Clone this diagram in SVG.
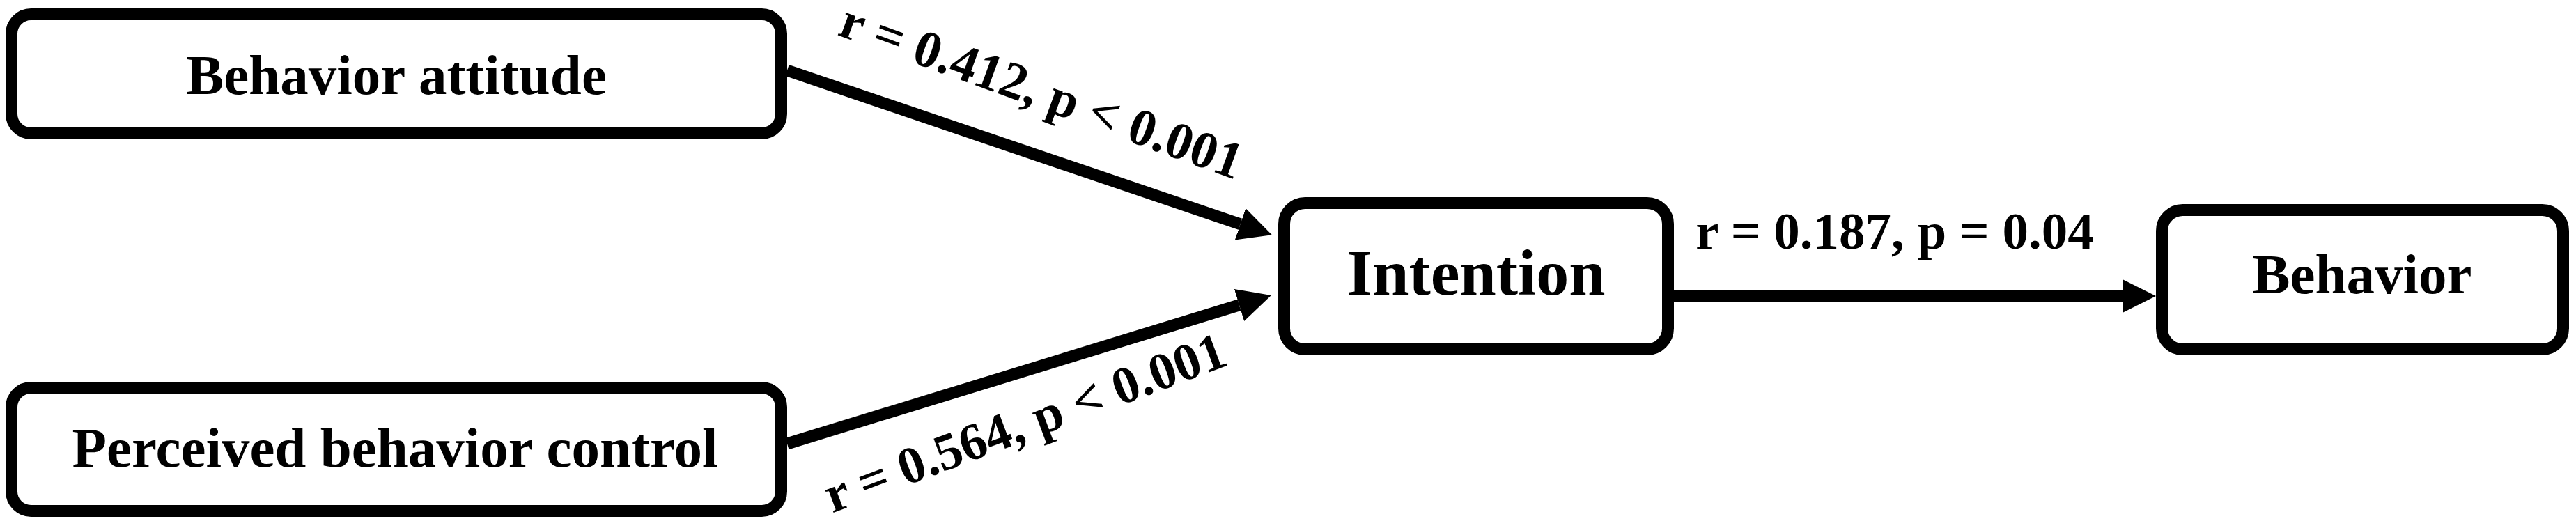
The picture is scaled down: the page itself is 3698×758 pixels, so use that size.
<svg xmlns="http://www.w3.org/2000/svg" width="3698" height="758" viewBox="0 0 3698 758">
<style>
.box{fill:#fff;stroke:#000;stroke-width:17}
.lbl{font-family:"Liberation Serif","Times New Roman",serif;font-weight:bold;fill:#000;text-anchor:middle}
.edge{stroke:#000;stroke-width:17;fill:none}
</style>
<defs>
<marker id="ah" markerUnits="userSpaceOnUse" markerWidth="48" markerHeight="48" viewBox="0 0 48 48" refX="0" refY="24" orient="auto">
<path d="M0,0 L48,24 L0,48 z" fill="#000"/>
</marker>
</defs>
<rect width="3698" height="758" fill="#fff"/>
<g id="connectors">
<line class="edge" x1="1130" y1="101" x2="1780.5" y2="321.8" marker-end="url(#ah)"/>
<line class="edge" x1="1130" y1="637" x2="1779" y2="438" marker-end="url(#ah)"/>
<line class="edge" x1="2403" y1="425" x2="3047" y2="425" marker-end="url(#ah)"/>
<text class="lbl" font-size="75" transform="translate(1487,154) rotate(20)">r = 0.412, p &lt; 0.001</text>
<text class="lbl" font-size="75" transform="translate(1480,630) rotate(-20.5)">r = 0.564, p &lt; 0.001</text>
<text class="lbl" font-size="75" x="2720" y="357">r = 0.187, p = 0.04</text>
</g>
<g id="node-attitude">
<rect class="box" x="16.5" y="20.5" width="1105" height="171" rx="28"/>
<text class="lbl" font-size="81" x="569" y="135">Behavior attitude</text>
</g>
<g id="node-control">
<rect class="box" x="16.5" y="556.5" width="1105" height="177" rx="28"/>
<text class="lbl" font-size="81" x="567" y="670">Perceived behavior control</text>
</g>
<g id="node-intention">
<rect class="box" x="1843.5" y="291.5" width="551" height="210" rx="30"/>
<text class="lbl" font-size="94" x="2119" y="423">Intention</text>
</g>
<g id="node-behavior">
<rect class="box" x="3103.5" y="301.5" width="576" height="200" rx="30"/>
<text class="lbl" font-size="81" x="3391" y="421">Behavior</text>
</g>
</svg>
